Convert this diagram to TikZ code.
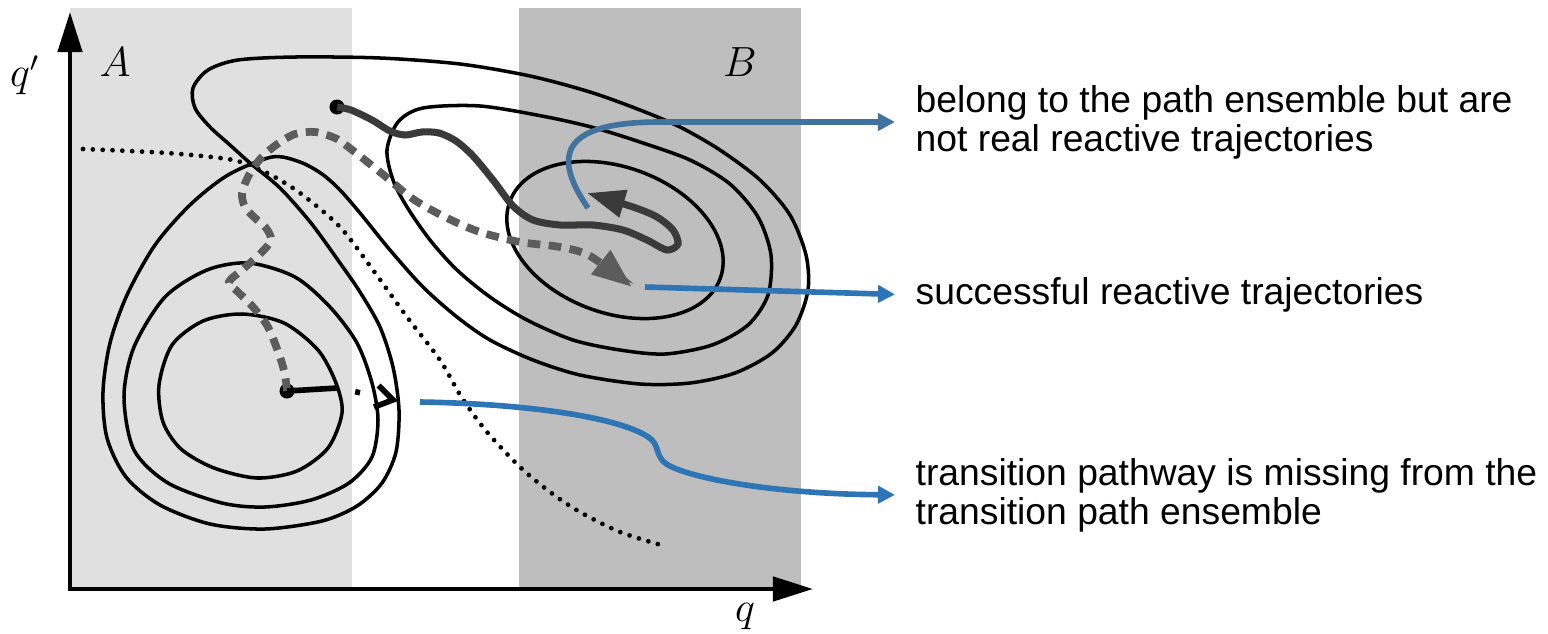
\documentclass[tikz,border=0pt]{standalone}
\usepackage{fontspec}
\setmainfont{Liberation Sans}
\usepackage{tikz}
\usetikzlibrary{arrows.meta,positioning}
\usepackage{xcolor}
\definecolor{regionA}{RGB}{224,224,224}
\definecolor{regionB}{RGB}{190,190,190}
\definecolor{pathgray}{RGB}{92,92,92}
\definecolor{pathdark}{RGB}{58,58,58}
\definecolor{calloutblue}{RGB}{46,117,182}
\definecolor{calloutsteel}{RGB}{66,114,158}

\begin{document}
\begin{tikzpicture}[x=0.01cm,y=-0.01cm,
  contour/.style={line width=1pt},
  axisline/.style={line width=1.3pt,-{Triangle[length=0.4cm,width=0.24cm]}},
  dotpt/.style={circle,fill=black,inner sep=0pt,minimum size=0.15cm},
  callout/.style={line width=1.6pt,calloutblue,-{Triangle[length=0.17cm,width=0.17cm]},shorten >=0.2cm},
  note/.style={inner sep=0pt,anchor=west,align=left,font=\fontsize{10.6}{11.1}\selectfont},
  maths/.style={font=\fontsize{11.5}{14}\selectfont}]
 \useasboundingbox (0,0) rectangle (1548,633);
 % basins
 \fill[regionA] (70,8) rectangle (352,587);
 \fill[regionB] (519,8) rectangle (801,587);
 \node[maths] (labA) at (115,62) {$A$};
 \node[maths] (labB) at (740,62) {$B$};
 % axes
 \draw[axisline] (70,589) -- (70,12);
 \draw[axisline] (68,589) -- (813,589);
 \node[maths] (labQp) at (25,75) {$q'$};
 \node[maths] (labQ) at (745,617) {$q$};
 % contours around A
 \draw[contour] plot[smooth cycle] coordinates {(242,314) (284,323) (318,350) (336,383) (342,413) (328,448)
   (297,471) (257,478) (214,468) (181,449) (163,422) (159,385) (172,345) (203,321)};
 \draw[contour] plot[smooth cycle] coordinates {(249,263) (295,277) (330,307) (357,343) (372,383) (378,420)
   (372,457) (349,483) (311,500) (265,507) (222,503) (168,483) (134,450) (124,397) (134,347) (165,297) (207,270)};
 % contours around B
 \draw[contour] (615,240) ellipse[x radius=112,y radius=73,rotate=-20];
 \draw[contour] plot[smooth cycle] coordinates {(387,150) (398,122) (423,108) (480,106) (547,117) (595,128)
   (640,142) (690,160) (730,184) (758,217) (771,255) (768,295) (748,325) (712,345) (665,354) (620,350)
   (573,340) (527,320) (490,297) (457,270) (430,240) (407,207) (393,180)};
 % outer contour round both basins
 \draw[contour] plot[smooth cycle] coordinates {(272,157) (300,162) (322,174) (340,190) (360,213) (390,250)
   (423,287) (457,317) (490,340) (533,360) (580,375) (640,384) (690,383) (735,373) (772,353) (796,325)
   (808,290) (806,255) (790,215) (760,180) (720,150) (680,127) (640,110) (590,92) (530,76) (460,64)
   (380,58) (296,57) (238,60) (208,70) (193,88) (195,108) (210,127) (230,145) (250,163) (280,188)
   (311,223) (340,263) (360,292) (380,327) (393,367) (399,410) (396,452) (382,483) (357,506) (322,521)
   (265,529) (210,524) (160,505) (126,477) (107,438) (103,392) (110,343) (127,295) (155,245) (190,205)
   (228,175)};
 % dividing surface
 \draw[line width=1.35pt,line cap=round,dash pattern=on 0pt off 2.8pt] plot[smooth] coordinates {(83,149)
   (167,153) (233,160) (267,173) (300,193) (340,227) (373,270) (407,317) (440,360) (462,398) (487,432)
   (520,467) (550,492) (580,512) (620,532) (661,545)};
 % trajectories
 \node[dotpt] (startA) at (287,391) {};
 \node[dotpt] (startX) at (337,107) {};
 \draw[pathgray,line width=2.2pt,dash pattern=on 3.6pt off 2.4pt,-{Triangle[length=0.4cm,width=0.29cm]}]
   plot[smooth] coordinates {(287,391) (285,375) (280,357) (268,327) (253,307) (238,292) (229,282)
   (242,270) (261,253) (271,240) (266,228) (255,218) (245,207) (242,193) (249,175) (261,158) (276,145)
   (295,134) (315,132) (335,138) (347,146) (380,172) (413,199) (447,218) (480,232) (520,242) (560,247)
   (590,256) (632,287)};
 \draw[pathdark,line width=2pt,-{Triangle[length=0.38cm,width=0.27cm]}]
   plot[smooth] coordinates {(337,107) (351,110) (372,120) (390,131) (405,135) (422,132) (439,133)
   (456,141) (473,156) (493,180) (513,206) (533,220) (560,225) (593,225) (623,230) (647,240) (667,250)
   (678,244) (673,230) (657,217) (633,207) (587,193)};
 \draw[line width=1.6pt] (startA.center) -- (338,388) coordinate (rimA);
 \draw[line width=1.6pt,dash pattern=on 0pt off 5pt on 1.4pt off 4.2pt,-{Straight Barb[length=0.17cm,width=0.22cm]}]
   (rimA) -- (398,401);
 % callouts
 \node[note] (lblGhost) at (915,122) {belong to the path ensemble but are\\not real reactive trajectories};
 \node[note] (lblReact) at (915,295) {successful reactive trajectories};
 \node[note] (lblMiss) at (915,495) {transition pathway is missing from the\\transition path ensemble};
 \coordinate (ghostTip) at (588,208);
 \coordinate (reactTip) at (645,287);
 \coordinate (missTip) at (420,402);
 \draw[callout,calloutsteel] (ghostTip) .. controls (555,160) and (555,122) .. (660,122) -- (lblGhost.west);
 \draw[callout] (reactTip) -- (lblReact.west);
 \draw[callout] (missTip) .. controls (540,404) and (630,420) .. (652,440)
   .. controls (660,448) and (655,460) .. (672,467) .. controls (700,480) and (780,494) .. (lblMiss.west);
\end{tikzpicture}
\end{document}
